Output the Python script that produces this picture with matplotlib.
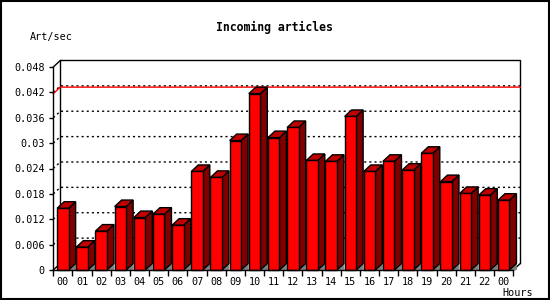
import matplotlib
matplotlib.use('Agg')
import matplotlib.pyplot as plt
from matplotlib.patches import Polygon, Rectangle
import numpy as np

plt.rcParams['font.family'] = 'DejaVu Sans Mono'
plt.rcParams['lines.scale_dashes'] = False

# data
hours = ['00', '01', '02', '03', '04', '05', '06', '07', '08', '09', '10', '11',
         '12', '13', '14', '15', '16', '17', '18', '19', '20', '21', '22', '00']
rates = [0.0146, 0.0054, 0.0092, 0.0150, 0.0124, 0.0132, 0.0106, 0.0233,
         0.0219, 0.0306, 0.0417, 0.0313, 0.0337, 0.0259, 0.0257, 0.0363,
         0.0233, 0.0257, 0.0236, 0.0276, 0.0209, 0.0181, 0.0177, 0.0165]
y_ticks = [0, 0.006, 0.012, 0.018, 0.024, 0.03, 0.036, 0.042, 0.048]
y_labels = ['0', '0.006', '0.012', '0.018', '0.024', '0.03', '0.036', '0.042', '0.048']
y_max = 0.048

# 3d look: depth offset in data units
dx = 0.365
dy = 0.00154
bar_w = 0.6
n = len(rates)

fig = plt.figure(figsize=(5.5, 3), dpi=100)
ax = fig.add_axes([53.3 / 550, 30 / 300, 460 / 550, 203 / 300])
ax.set_xlim(0, n)
ax.set_ylim(0, y_max)
ax.patch.set_alpha(0)
for s in ['top', 'right']:
    ax.spines[s].set_visible(False)
for s in ['left', 'bottom']:
    ax.spines[s].set_linewidth(1.0)
    ax.spines[s].set_zorder(6)

# back box
ax.plot([dx, dx, n + dx, n + dx], [dy, y_max + dy, y_max + dy, dy],
        color='black', lw=1.0, clip_on=False, zorder=1)
ax.plot([0, dx], [y_max, y_max + dy], color='black', lw=1.0, clip_on=False, zorder=1)
ax.plot([0, dx], [0, dy], color='black', lw=1.0, clip_on=False, zorder=1)
ax.plot([n, n + dx], [0, dy], color='black', lw=1.0, clip_on=False, zorder=1)

# dashed grid on back wall
for v in y_ticks[1:-1]:
    ax.plot([0, dx, n + dx], [v, v + dy, v + dy], color='black', lw=1.0,
            linestyle=(0, (1.5, 2.2)), clip_on=False, zorder=1)

# max line
vmax = max(rates)
ax.plot([0, dx, n + dx], [vmax, vmax + dy, vmax + dy], color='red', lw=1.0,
        clip_on=False, zorder=2)

for i, v in enumerate(rates):
    x0 = i + (1 - bar_w) / 2
    x1 = x0 + bar_w
    shade = Polygon([(x1, 0), (x1 + dx, dy), (x1 + dx, 0)], closed=True,
                    facecolor='#808080', edgecolor='#808080', lw=0.5,
                    clip_on=False, zorder=3)
    side = Polygon([(x1, 0), (x1, v), (x1 + dx, v + dy), (x1 + dx, dy)], closed=True,
                   facecolor='#800000', edgecolor='black', lw=1.0,
                   clip_on=False, zorder=4)
    top = Polygon([(x0, v), (x1, v), (x1 + dx, v + dy), (x0 + dx, v + dy)], closed=True,
                  facecolor='#c00000', edgecolor='black', lw=1.0,
                  clip_on=False, zorder=4)
    front = Rectangle((x0, 0), bar_w, v, facecolor='#ff0000', edgecolor='black',
                      lw=1.0, clip_on=False, zorder=5)
    for p in (shade, side, top, front):
        ax.add_patch(p)

ax.set_yticks(y_ticks)
ax.set_yticklabels(y_labels)
ax.tick_params(axis='y', length=3, width=1, pad=3, labelsize=7.3)

ax.set_xticks(np.arange(n + 1))
ax.set_xticklabels([])
ax.set_xticks(np.arange(n) + 0.5, minor=True)
ax.set_xticklabels(hours, minor=True)
ax.tick_params(axis='x', which='major', length=4, width=1)
ax.tick_params(axis='x', which='minor', length=0, pad=5, labelsize=7.3)

fig.text(274 / 550, 1 - 27 / 300, 'Incoming articles', ha='center', va='center',
         fontsize=8.3, fontweight='bold')
fig.text(30 / 550, 1 - 37 / 300, 'Art/sec', ha='left', va='center', fontsize=7.3)
fig.text(533 / 550, 1 - 292.5 / 300, 'Hours', ha='right', va='center', fontsize=7.3)

fig.add_artist(Rectangle((0.001, 0.002), 0.997, 0.995, transform=fig.transFigure,
                         fill=False, edgecolor='black', lw=1.5))

fig.savefig('out.png', dpi=100)
